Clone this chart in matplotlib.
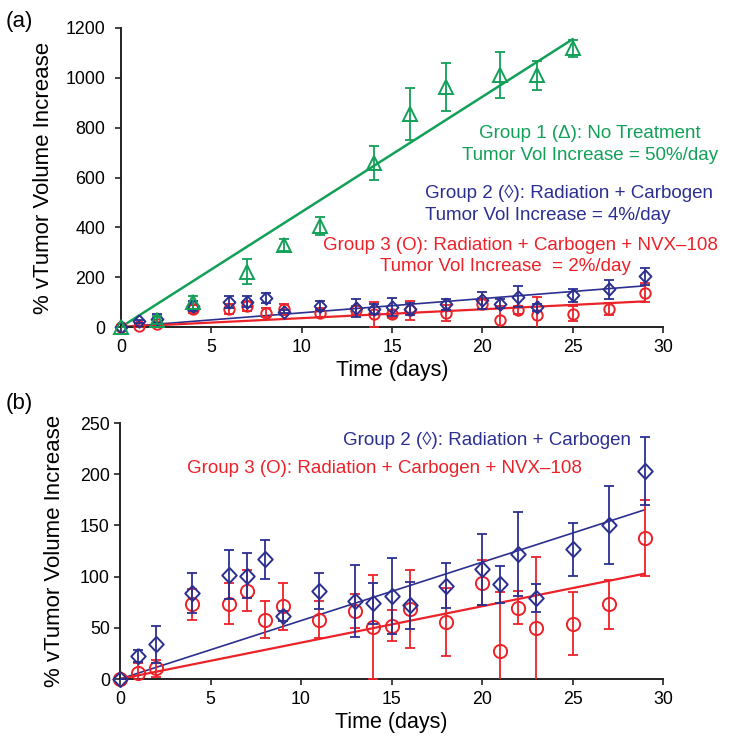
import matplotlib
matplotlib.use("Agg")
import matplotlib.pyplot as plt
import numpy as np

plt.rcParams['font.family'] = ['Liberation Sans', 'DejaVu Sans']

# ---- data ----
g1_days = [0, 2, 4, 7, 9, 11, 14, 16, 18, 21, 23, 25]
g1_vals = [0, 28, 99, 222, 329, 405, 657, 855, 962, 1011, 1011, 1118]
g1_err = [0, 15, 27, 50, 25, 35, 68, 104, 97, 93, 58, 35]

g2_days = [0, 1, 2, 4, 6, 7, 8, 9, 11, 13, 14, 15, 16, 18, 20, 21, 22, 23, 25, 27, 29]
g2_vals = [0, 22.5, 34, 84, 102, 101, 117, 61.5, 86, 76, 74, 81, 72, 91, 107, 92.5, 122, 79, 126.6, 150.7, 203]
g2_err = [0, 6, 18, 20, 24, 22, 19, 5, 18, 35, 20, 37, 23, 22, 35, 18, 41, 14, 26, 38, 33]

g3_days = [0, 1, 2, 4, 6, 7, 8, 9, 11, 13, 14, 15, 16, 18, 20, 21, 22, 23, 25, 27, 29]
g3_vals = [0, 5.5, 10.4, 73, 73.5, 86, 58, 71, 58, 66.4, 51, 52, 68, 55.7, 94, 27.6, 69.6, 50, 54, 73, 138]
g3_err = [0, 10, 8, 15, 20, 20, 18, 23, 18, 17, 51, 15, 38, 33, 22, 57, 16, 69, 31, 24, 37]

g1_slope, g1_end = 46.2, 25
g2_slope, g2_end = 5.7, 29
g3_slope, g3_end = 3.55, 29

c_green = '#12a058'
c_blue = '#2b2f8f'
c_red = '#ec2229'

diamond = [(0, 1), (0.95, 0), (0, -1), (-0.95, 0), (0, 1)]

W, H = 729, 749
fig = plt.figure(figsize=(W / 100, H / 100), dpi=100)

def px_axes(left, right, top, bottom):
    return fig.add_axes([left / W, 1 - bottom / H, (right - left) / W, (bottom - top) / H])

ax1 = px_axes(121, 663, 28, 327)
ax2 = px_axes(120, 663, 423, 679)

def style(ax, ylim, yticks, ypad, ylab_x):
    for s in ['top', 'right']:
        ax.spines[s].set_visible(False)
    for s in ['left', 'bottom']:
        ax.spines[s].set_linewidth(1.4)
        ax.spines[s].set_color('#222222')
    ax.set_xlim(0, 30)
    ax.set_ylim(*ylim)
    ax.set_xticks(range(0, 31, 5))
    ax.set_yticks(yticks)
    ax.tick_params(direction='out', length=4.3, width=1.2, labelsize=12.8, color='#222222')
    ax.tick_params(axis='y', pad=ypad)
    ax.tick_params(axis='x', pad=4.5)
    ax.set_xlabel('Time (days)', fontsize=15.5, labelpad=3)
    ax.set_ylabel('% vTumor Volume Increase', fontsize=16)
    ax.yaxis.label.set_va('center')
    ax.yaxis.set_label_coords(ylab_x, 0.5)

def series(ax, days, vals, errs, marker, color, ms, zo):
    ax.errorbar(days, vals, yerr=errs, fmt='none', ecolor=color, elinewidth=1.3,
                capsize=3.5, capthick=1.3, zorder=zo)
    ax.plot(days, vals, linestyle='none', marker=marker, ms=ms, mfc='none',
            mec=color, mew=1.4, clip_on=False, zorder=zo + 0.5)

def fitline(ax, slope, end, color, lw):
    xs = np.array([0, end])
    ax.plot(xs, slope * xs, color=color, lw=lw, zorder=2)

fs = 13.5

# Panel (a)
fitline(ax1, g1_slope, g1_end, c_green, 1.8)
fitline(ax1, g2_slope, g2_end, c_blue, 1.2)
fitline(ax1, g3_slope, g3_end, c_red, 1.6)
series(ax1, g3_days, g3_vals, g3_err, 'o', c_red, 7.5, 3)
series(ax1, g2_days, g2_vals, g2_err, diamond, c_blue, 9, 4)
series(ax1, g1_days, g1_vals, g1_err, '^', c_green, 10.5, 5)
style(ax1, (0, 1200), range(0, 1201, 200), 7.2, (43 - 121) / 542)

ax1.text(25.95, 778, 'Group 1 (Δ): No Treatment', color=c_green, fontsize=fs, ha='center', va='center')
ax1.text(25.95, 690, 'Tumor Vol Increase = 50%/day', color=c_green, fontsize=fs, ha='center', va='center')
ax1.text(16.8, 538, 'Group 2 (◊): Radiation + Carbogen', color=c_blue, fontsize=fs, ha='left', va='center')
ax1.text(16.8, 449, 'Tumor Vol Increase = 4%/day', color=c_blue, fontsize=fs, ha='left', va='center')
ax1.text(22.1, 329, 'Group 3 (O): Radiation + Carbogen + NVX–108', color=c_red, fontsize=fs, ha='center', va='center')
ax1.text(21.3, 241, 'Tumor Vol Increase  = 2%/day', color=c_red, fontsize=fs, ha='center', va='center')

# Panel (b)
fitline(ax2, g2_slope, g2_end, c_blue, 1.2)
fitline(ax2, g3_slope, g3_end, c_red, 1.6)
series(ax2, g3_days, g3_vals, g3_err, 'o', c_red, 9.5, 3)
series(ax2, g2_days, g2_vals, g2_err, diamond, c_blue, 11, 4)
style(ax2, (0, 250), range(0, 251, 50), 3, (55 - 120) / 543)

ax2.text(20.3, 233, 'Group 2 (◊): Radiation + Carbogen', color=c_blue, fontsize=fs, ha='center', va='center')
ax2.text(14.6, 206, 'Group 3 (O): Radiation + Carbogen + NVX–108', color=c_red, fontsize=fs, ha='center', va='center')

fig.text(6 / W, 1 - 22 / H, '(a)', fontsize=16, ha='left', va='center')
fig.text(6 / W, 1 - 403 / H, '(b)', fontsize=16, ha='left', va='center')

fig.savefig('out.png', dpi=100)
